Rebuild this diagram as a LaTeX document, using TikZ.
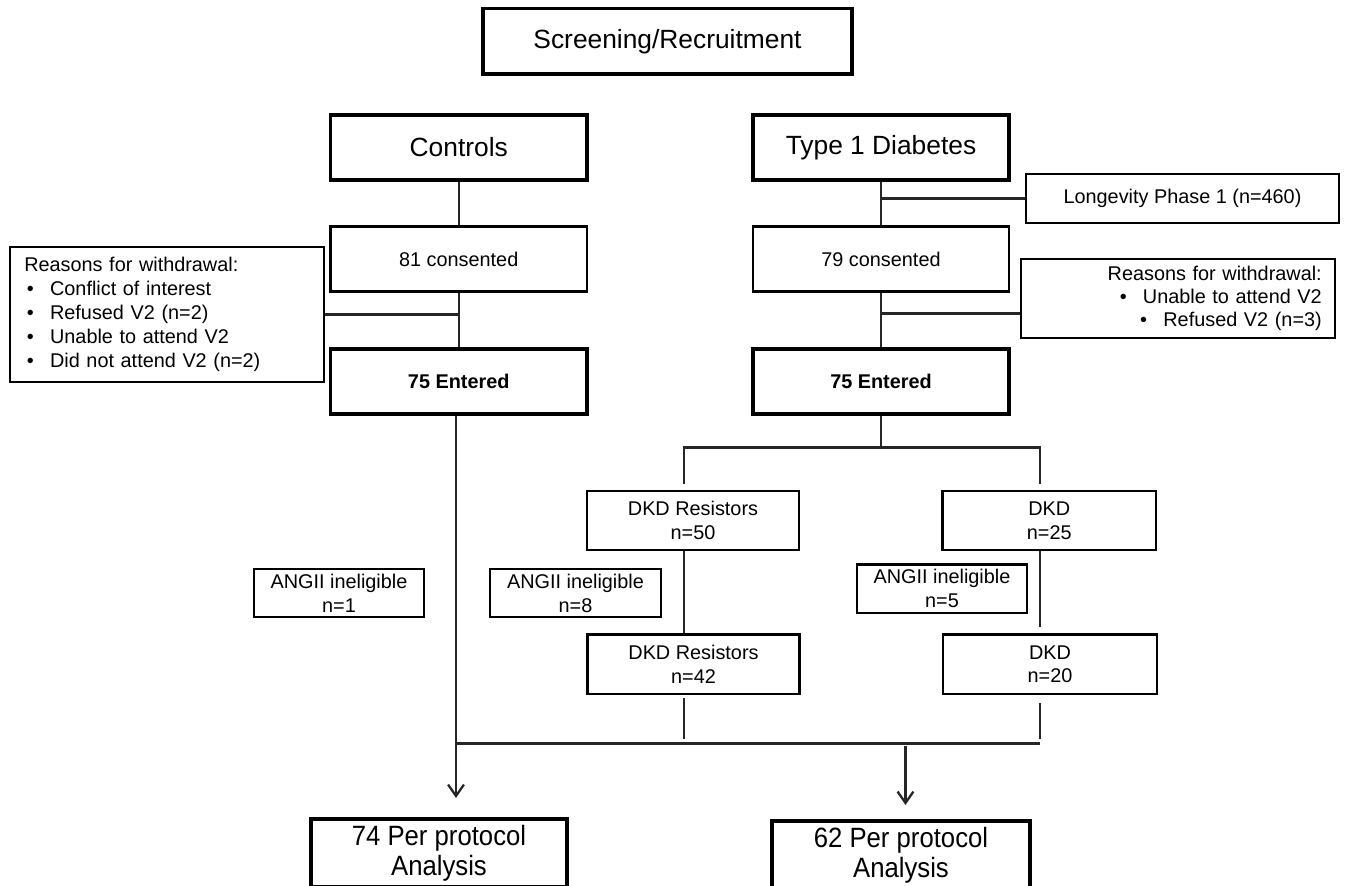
\documentclass[tikz,border=0pt]{standalone}
\usepackage{fontspec}
\setmainfont{Liberation Sans}
\newfontfamily\narrowfont[FakeStretch=0.92]{Liberation Sans}
\usetikzlibrary{arrows.meta,calc}
\newcommand\blt{\makebox[14.7pt][l]{\hspace{1.5pt}\textbullet}}
\tikzset{
  sz/.style 2 args={minimum width=#1*0.02cm, minimum height=#2*0.02cm},
  box/.style={draw, line width=1.3pt, inner sep=0pt, align=center,
    font=\fontsize{11.3}{13.6}\selectfont},
  thickbox/.style={box, line width=2.1pt},
  bigbox/.style={thickbox, font=\fontsize{15}{18}\selectfont},
  boldbox/.style={thickbox, font=\fontsize{11.3}{13.6}\selectfont\bfseries},
  ppbox/.style={thickbox, font=\narrowfont\fontsize{15.9}{17.2}\selectfont},
  note/.style={box, line width=1.1pt},
  conn/.style={line width=1.3pt, draw=black!85},
  arr/.style={conn, -{Straight Barb[length=6.5pt,width=9pt]}},
}
\begin{document}
\begin{tikzpicture}[x=0.02cm,y=-0.02cm]
\useasboundingbox (0,0) rectangle (1346,886);

% boxes
\node[bigbox, sz={369}{65.5}] (scr) at (667.5,41.25) {Screening/Recruitment};
\node[bigbox, sz={256.5}{65}] (ctrl) at (458.75,147.5) {Controls};
\node[bigbox, sz={256}{65}] (t1d) at (881,147.5) {Type 1 Diabetes};
\node[note, sz={313}{49}] (longev) at (1182.5,198.5) {Longevity Phase 1 (n=460)};
\node[box, sz={256.5}{65}] (cons1) at (458.75,259) {81 consented};
\node[box, sz={256}{65}] (cons2) at (881,259) {79 consented};
\node[note, text width=5.72cm, inner xsep=0.28cm, align=left, minimum height=135*0.02cm]
  (rsnL) at (167.25,314.5)
  {Reasons for withdrawal:\\
   \blt Conflict of interest\\
   \blt Refused V2 (n=2)\\
   \blt Unable to attend V2\\
   \blt Did not attend V2 (n=2)};
\node[note, text width=5.76cm, inner xsep=0.26cm, align=right, minimum height=79*0.02cm,
  font=\fontsize{11.3}{13}\selectfont]
  (rsnR) at (1177.8,298.5)
  {Reasons for withdrawal:\\
   \blt Unable to attend V2\\
   \blt Refused V2 (n=3)};
\node[boldbox, sz={256.5}{65}] (ent1) at (458.75,381.5) {75 Entered};
\node[boldbox, sz={256}{65}] (ent2) at (881,381.5) {75 Entered};

\node[box, sz={212}{59}] (dkr1) at (693,520.5) {DKD Resistors\\n=50};
\node[box, sz={213.5}{59}] (dkd1) at (1049.25,520.5) {DKD\\n=25};
\node[box, sz={170}{48}] (ang1) at (339,593) {ANGII ineligible\\n=1};
\node[box, sz={171}{48}] (ang2) at (575.5,593) {ANGII ineligible\\n=8};
\node[box, sz={170}{48.5}] (ang3) at (942,588.75) {ANGII ineligible\\n=5};
\node[box, sz={212}{59.5}] (dkr2) at (693.5,664.25) {DKD Resistors\\n=42};
\node[box, sz={214}{59.5}] (dkd2) at (1050,664.25) {DKD\\n=20};

\node[ppbox, sz={256}{68}] (pp1) at (439,853) {74 Per protocol\\Analysis};
\node[ppbox, sz={257.5}{68}] (pp2) at (901,855) {62 Per protocol\\Analysis};

% helper coordinates
\coordinate (colA) at (684,0);
\coordinate (colB) at (1040,0);
\coordinate (split) at (881,447.5);
\coordinate (join) at (456,743.5);
\coordinate (bR) at (881,313.6);
\coordinate (tip1) at (456,798);
\coordinate (a2s) at (905.5,746);
\coordinate (tip2) at (905.5,805);

% connectors
\draw[conn] (ctrl) -- (cons1);
\draw[conn] (cons1) -- (ent1);
\draw[conn] (t1d) -- (cons2);
\draw[conn] (cons2) -- (ent2);
\draw[conn] (longev.west) -- (longev.west -| t1d.south);
\draw[conn] (rsnL.east) -- (rsnL.east -| cons1.south);
\draw[conn] (bR) -- (bR -| rsnR.west);

\draw[conn] (ent2.south) -- (split);
\draw[conn] ($(dkr1.north -| colA)+(0,-6)$) -- (colA |- split) -- (colB |- split)
  -- ($(dkd1.north -| colB)+(0,-6)$);
\draw[conn] (dkr1.south -| colA) -- (dkr2.north -| colA);
\draw[conn] (dkd1.south -| colB) -- ($(dkd2.north -| colB)+(0,-6.5)$);
\draw[conn] ($(dkr2.south -| colA)+(0,3)$) -- ($(colA |- join)+(0,-5)$);
\draw[conn] ($(dkd2.south -| colB)+(0,8)$) -- ($(colB |- join)+(0,-4.5)$);
\draw[conn] (join) -- (colB |- join);

\draw[arr] (ent1.south -| tip1) -- (tip1);
\draw[arr] (a2s) -- (tip2);
\end{tikzpicture}
\end{document}
